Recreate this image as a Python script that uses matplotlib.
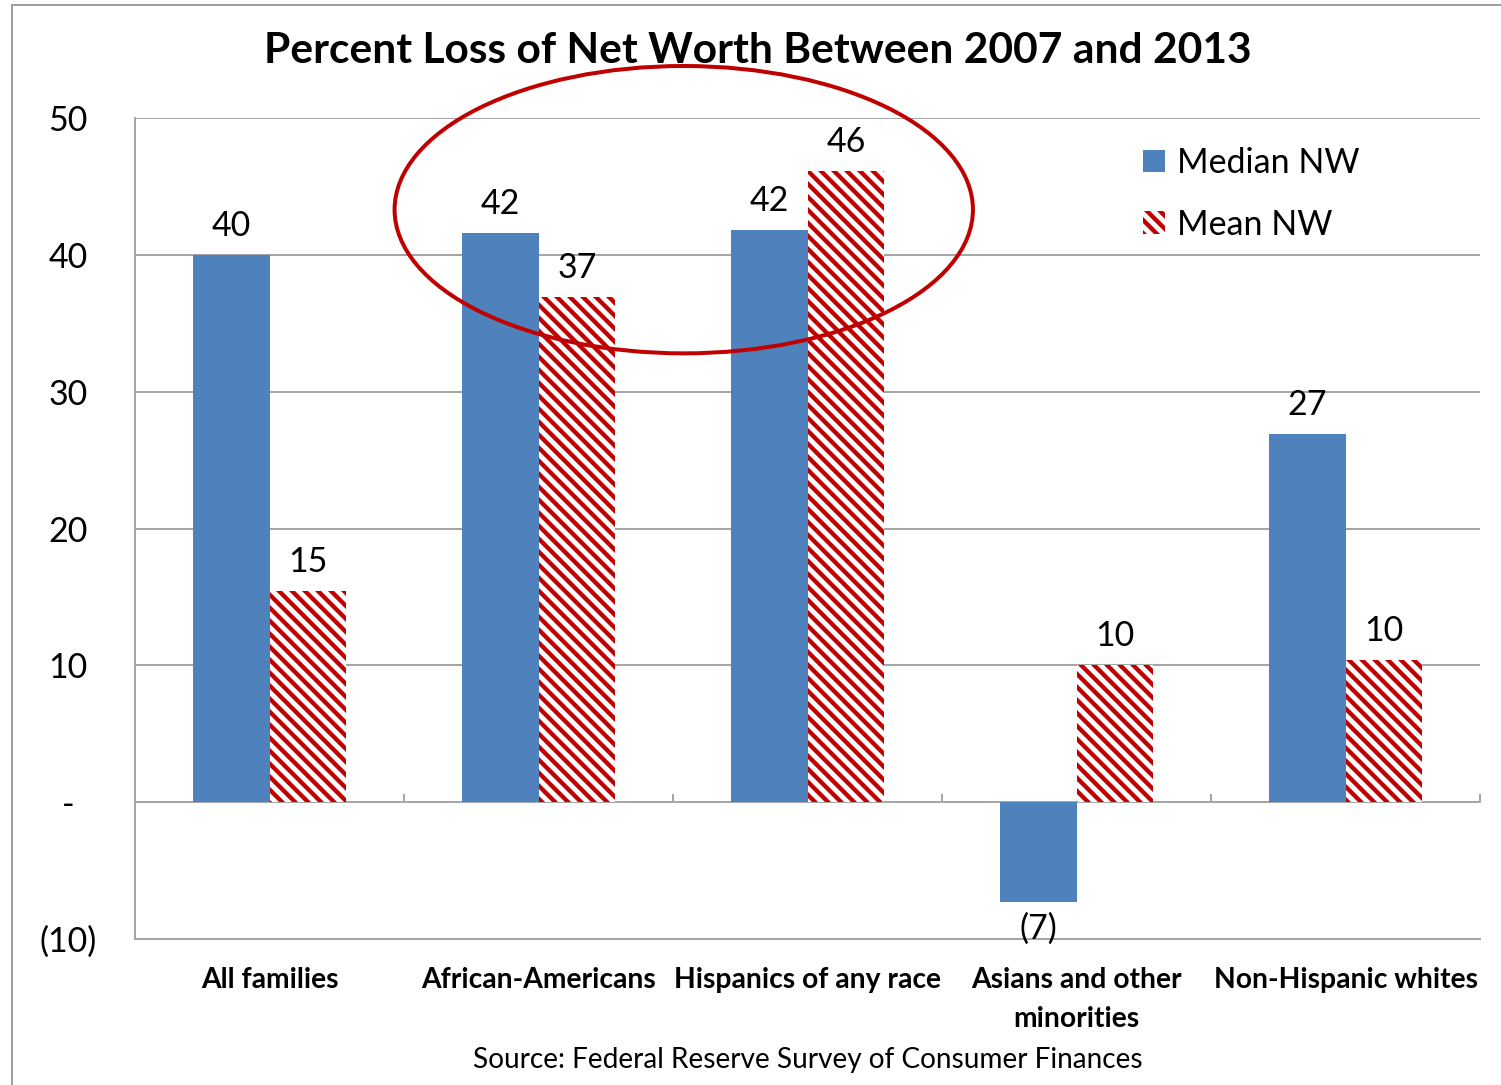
import numpy as np
import matplotlib
matplotlib.use("Agg")
import matplotlib.pyplot as plt
from matplotlib.patches import Ellipse, Patch
from matplotlib.lines import Line2D

DPI = 78
W_PX, H_PX = 1501, 1085

categories = ["All families", "African-Americans", "Hispanics of any race",
              "Asians and other\nminorities", "Non-Hispanic whites"]
median_nw = [40.0, 41.6, 41.8, -7.3, 26.9]
mean_nw = [15.4, 36.9, 46.1, 10.0, 10.4]
ytick_vals = [-10, 0, 10, 20, 30, 40, 50]
ytick_labels = ["(10)", "-", "10", "20", "30", "40", "50"]

BLUE = "#4F81BD"
RED = "#C00000"
GRID = "#A6A6A6"

plt.rcParams["font.family"] = ["Lato", "DejaVu Sans"]
plt.rcParams["hatch.linewidth"] = 4.0


def px(v):
    # pixels -> points at the figure dpi
    return v * 72 / DPI


def fmt(v):
    r = int(round(v))
    return f"({abs(r)})" if r < 0 else f"{r}"


fig = plt.figure(figsize=(W_PX / DPI, H_PX / DPI), dpi=DPI)
ax = fig.add_axes([135 / W_PX, 1 - 939 / H_PX, (1480 - 135) / W_PX, (939 - 118) / H_PX])

x = np.arange(len(categories))
bw = 0.285
med_bars = ax.bar(x - bw / 2, median_nw, bw, color=BLUE, zorder=3)
mean_bars = ax.bar(x + bw / 2, mean_nw, bw, facecolor="white", edgecolor=RED,
                   linewidth=0, hatch="\\\\", zorder=3)

for bars, vals in [(med_bars, median_nw), (mean_bars, mean_nw)]:
    for b, v in zip(bars, vals):
        xc = b.get_x() + b.get_width() / 2
        if v >= 0:
            ax.annotate(fmt(v), (xc, v), xytext=(0, px(13)), textcoords="offset points",
                        ha="center", va="bottom", fontsize=px(34), zorder=6)
        else:
            ax.annotate(fmt(v), (xc, v), xytext=(0, -px(11)), textcoords="offset points",
                        ha="center", va="top", fontsize=px(34), zorder=6)

ax.set_xlim(-0.5, len(categories) - 0.5)
ax.set_ylim(-10, 50)
ax.set_yticks(ytick_vals)
ax.set_yticklabels(ytick_labels, ha="center", fontsize=px(34))
ax.tick_params(axis="y", length=0, pad=px(135 - 68))
ax.set_xticks(x)
ax.set_xticklabels(categories, fontsize=px(28.3), fontweight="bold", linespacing=1.6)
ax.tick_params(axis="x", length=0, pad=px(28))
ax.grid(axis="y", color=GRID, lw=px(2), zorder=0)
ax.set_axisbelow(True)
for s in ["top", "right"]:
    ax.spines[s].set_visible(False)
ax.spines["left"].set_color(GRID)
ax.spines["left"].set_linewidth(px(2))
ax.spines["bottom"].set_color(GRID)
ax.spines["bottom"].set_linewidth(px(2))

# zero line with category separator ticks
sec = ax.secondary_xaxis(10 / 60)
sec.set_xticks(np.arange(len(categories)) + 0.5)
sec.tick_params(direction="in", length=px(8), width=px(2), color=GRID, labelbottom=False)
sec.spines["bottom"].set_color(GRID)
sec.spines["bottom"].set_linewidth(px(2))

# highlight around African-American and Hispanic groups
ax.add_patch(Ellipse((1.54, 43.3), 2.15, 21.0, fill=False, ec=RED,
                     lw=px(4), clip_on=False, zorder=7))

handles = [Patch(facecolor=BLUE, label="Median NW"),
           Patch(facecolor="white", edgecolor=RED, hatch="\\\\", linewidth=0, label="Mean NW")]
fig.legend(handles=handles, loc="upper left", bbox_to_anchor=(1143 / W_PX, 1 - 147 / H_PX),
           frameon=False, fontsize=px(34), handlelength=0.65, handleheight=0.65,
           handletextpad=0.35, labelspacing=0.87, borderpad=0, borderaxespad=0)

fig.text(758 / W_PX, 1 - 51 / H_PX, "Percent Loss of Net Worth Between 2007 and 2013",
         ha="center", va="center", fontsize=px(42.5), fontweight="bold")
fig.text(808 / W_PX, 1 - 1060 / H_PX, "Source: Federal Reserve Survey of Consumer Finances",
         ha="center", va="center", fontsize=px(28))

# outer frame lines
fig.add_artist(Line2D([12 / W_PX, 12 / W_PX], [0, 1 - 5 / H_PX], color="#A0A0A0", lw=px(2)))
fig.add_artist(Line2D([12 / W_PX, 1], [1 - 5 / H_PX, 1 - 5 / H_PX], color="#A0A0A0", lw=px(2)))

fig.savefig("out.png", dpi=DPI, facecolor="white")
